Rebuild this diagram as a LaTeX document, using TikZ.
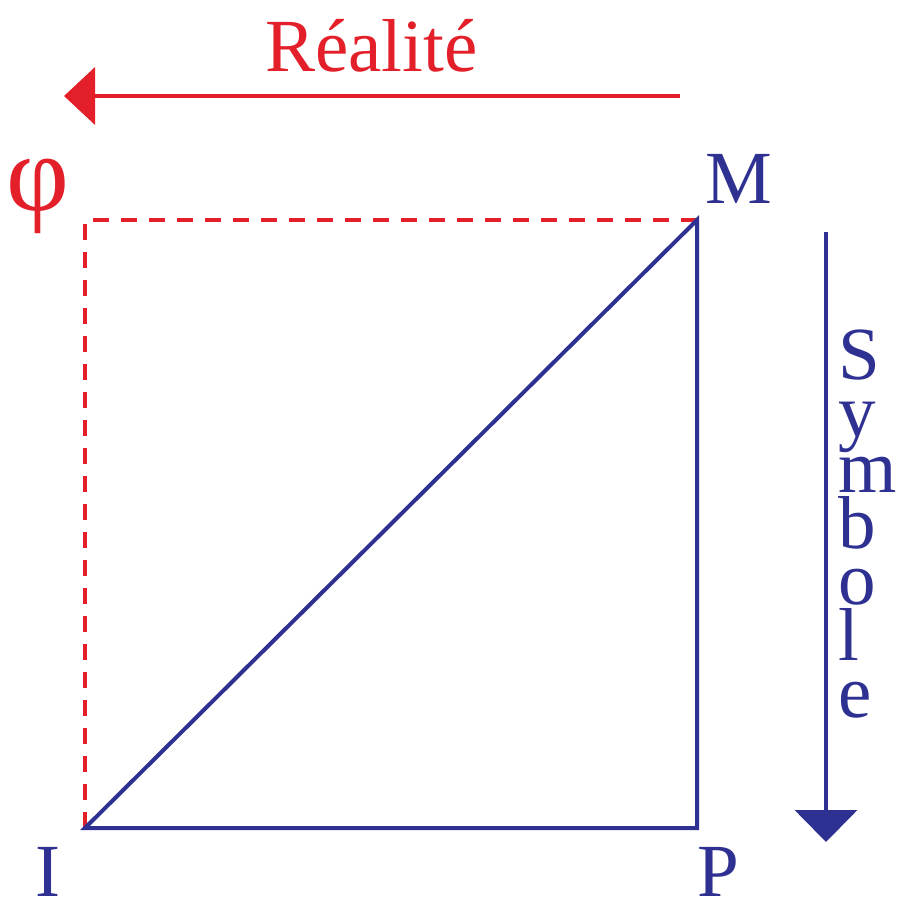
\documentclass[tikz,border=0pt]{standalone}
\usepackage{fontspec}
\setmainfont{Liberation Serif}
\usetikzlibrary{arrows.meta}
\definecolor{rred}{HTML}{E3202A}
\definecolor{bblue}{HTML}{2E3192}
\begin{document}
\begin{tikzpicture}[x=1pt,y=-1pt,
  lbl/.style={inner sep=0pt,anchor=base west,font=\fontsize{75}{75}\selectfont},
  redlbl/.style={lbl,text=rred},
  bluelbl/.style={lbl,text=bblue},
  reddash/.style={draw=rred,line width=4pt,dash pattern=on 16pt off 12pt},
  blueline/.style={draw=bblue,line width=4pt,line join=miter},
  redarrow/.style={draw=rred,line width=4pt,-{Triangle[length=31pt,width=57pt]}},
  bluearrow/.style={draw=bblue,line width=4pt,-{Triangle[length=32pt,width=62pt]}}]
\useasboundingbox (0,0) rectangle (898,904);
% corners
\coordinate (TL) at (85,220);
\coordinate (TR) at (697,220);
\coordinate (BR) at (697,828);
\coordinate (BL) at (85,828);
% top arrow
\coordinate (ra1) at (680,96);
\coordinate (ra2) at (64,96);
\draw[redarrow] (ra1) -- (ra2);
\node[redlbl] (real) at (265,72) {Réalité};
% right arrow
\coordinate (ba1) at (826,232);
\coordinate (ba2) at (826,842);
\draw[bluearrow] (ba1) -- (ba2);
% square
\draw[reddash] (BL) -- (TL) -- (TR);
\draw[blueline] (TR) -- (BR) -- (BL) -- cycle;
% labels
\node[redlbl,font=\fontsize{109}{109}\selectfont] (phi) at (6,211) {φ};
\node[bluelbl] (M) at (705,203) {M};
\node[bluelbl,text depth=0pt] (I) at (35,896) {I};
\node[bluelbl,text depth=0pt] (P) at (697,896) {P};
% Symbole
\node[bluelbl,align=left,font=\fontsize{75}{56.2}\selectfont] (sym) at (838,717)
  {S\\y\\m\\b\\o\\l\\e};
\end{tikzpicture}
\end{document}
